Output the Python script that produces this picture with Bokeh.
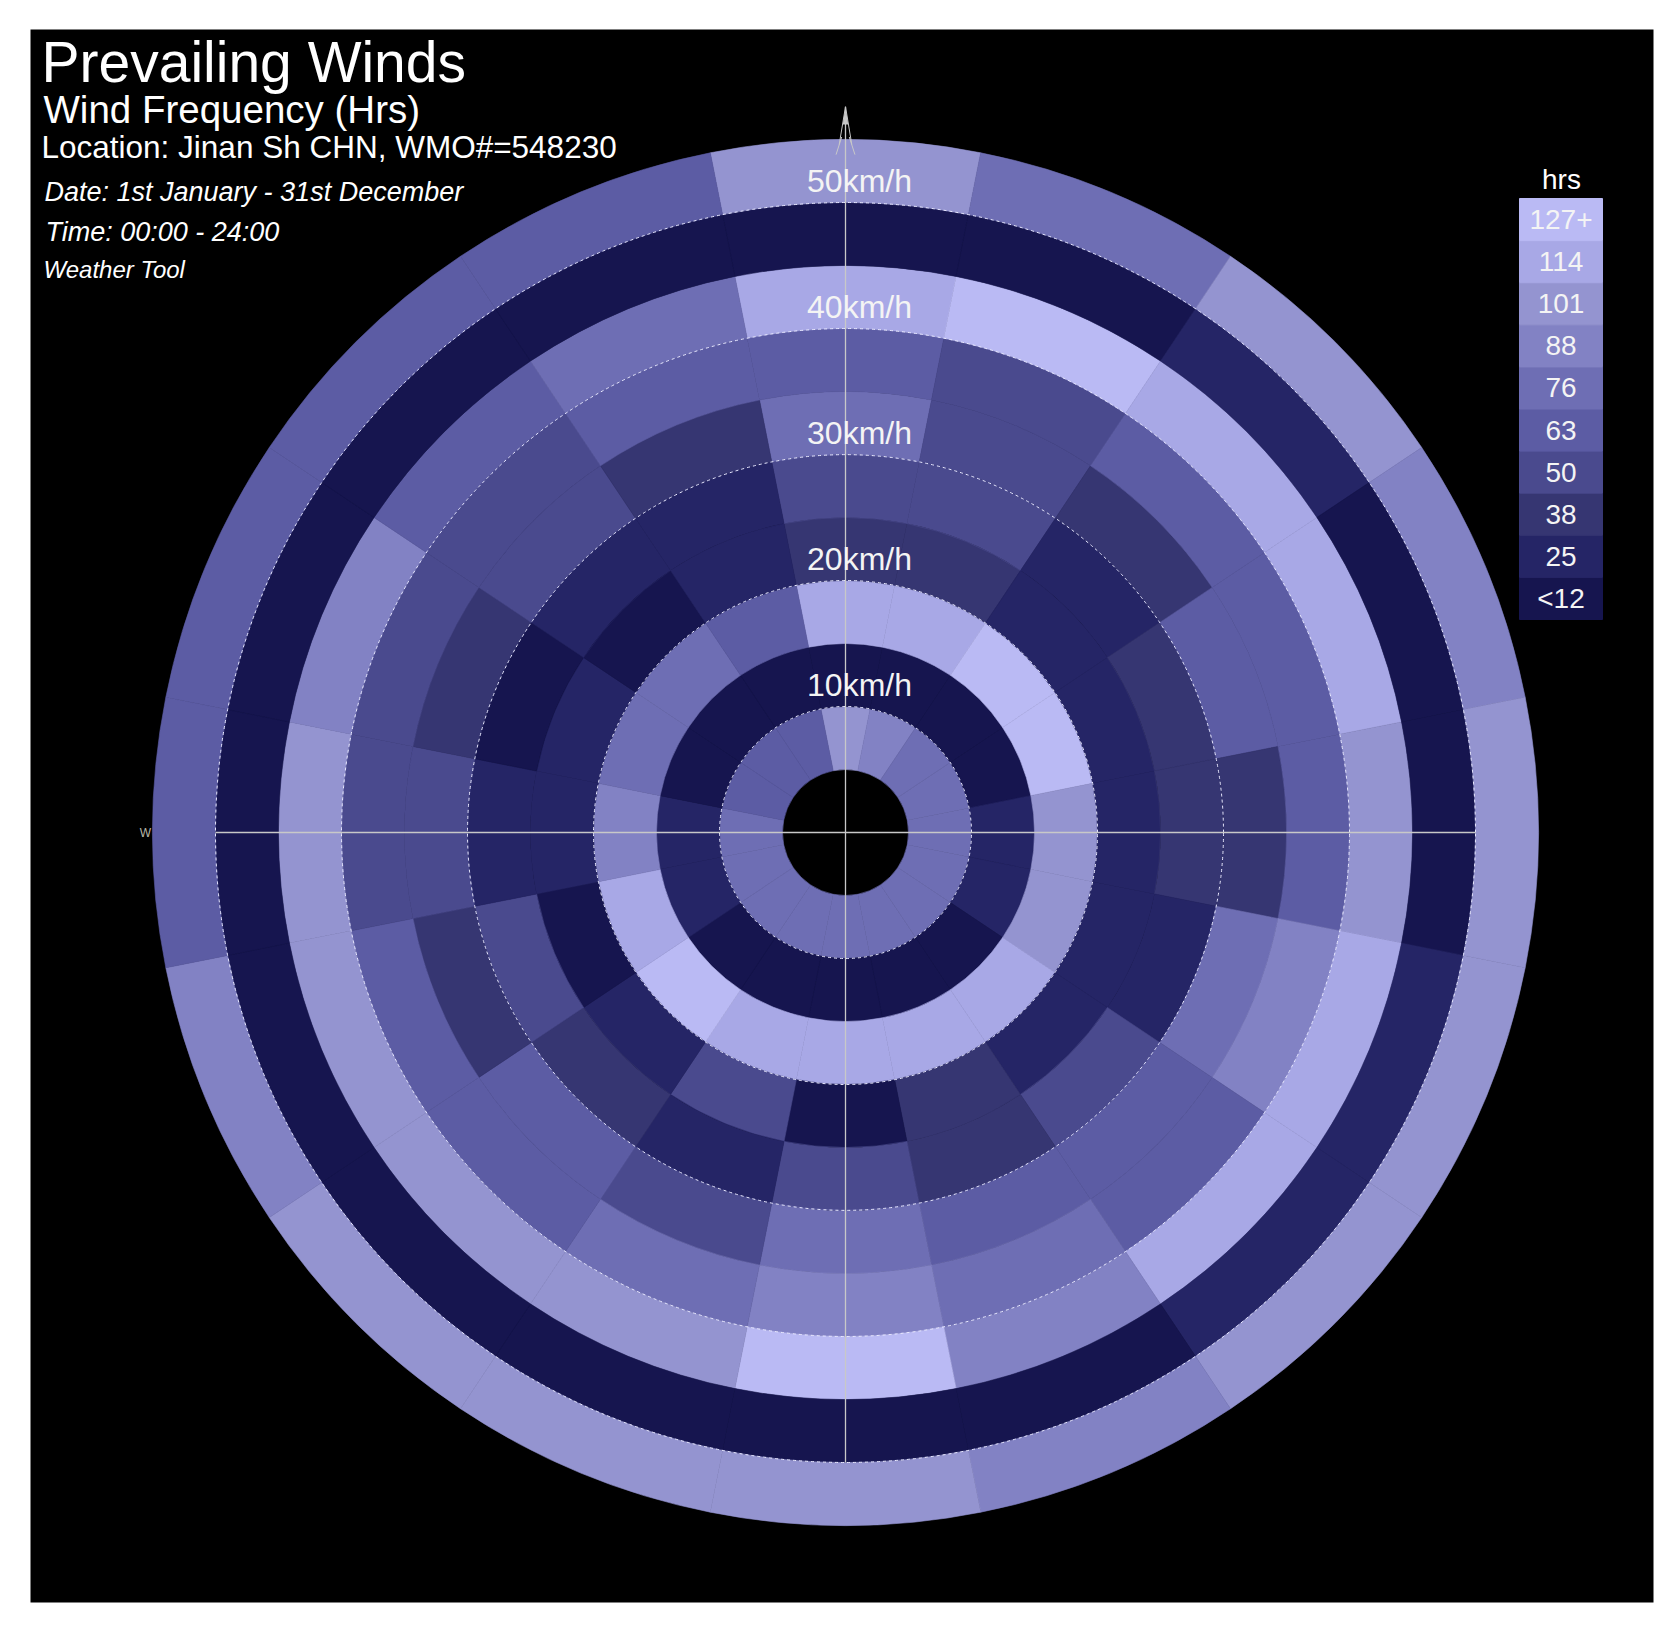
import math
from bokeh.plotting import figure
from bokeh.models import Range1d, ColumnDataSource
from bokeh.core.properties import value
from bokeh.embed import file_html
from bokeh.resources import INLINE

# ---------------- data ----------------
directions = ["N", "NNE", "NE", "ENE", "E", "ESE", "SE", "SSE",
              "S", "SSW", "SW", "WSW", "W", "WNW", "NW", "NNW"]
speed_edges = [5, 10, 15, 20, 25, 30, 35, 40, 45, 50, 55]   # km/h

# wind frequency (hours) per speed band, per direction (N..NNW)
hrs_05_10 = [96, 84, 72, 68, 70, 66, 67, 69, 71, 68, 66, 70, 72, 60, 57, 59]
hrs_10_15 = [9, 11, 10, 11, 16, 18, 10, 9, 11, 12, 12, 15, 17, 6, 7, 9]
hrs_15_20 = [106, 110, 131, 135, 94, 92, 108, 105, 109, 111, 134, 112, 82, 72, 70, 58]
hrs_20_25 = [30, 32, 20, 19, 18, 21, 22, 29, 10, 44, 20, 11, 19, 17, 9, 18]
hrs_25_30 = [42, 44, 22, 30, 31, 21, 46, 34, 45, 22, 33, 47, 23, 11, 16, 21]
hrs_30_35 = [66, 46, 33, 56, 36, 68, 57, 58, 70, 47, 59, 36, 44, 35, 43, 37]
hrs_35_40 = [58, 48, 60, 55, 54, 80, 61, 68, 81, 70, 60, 58, 47, 45, 46, 56]
hrs_40_45 = [106, 126, 112, 104, 96, 107, 110, 84, 128, 99, 97, 98, 95, 82, 60, 71]
hrs_45_50 = [5, 6, 16, 8, 11, 17, 15, 8, 7, 10, 11, 12, 10, 6, 5, 6]
hrs_50_55 = [94, 72, 93, 85, 97, 98, 92, 86, 96, 93, 99, 80, 58, 56, 55, 57]
bands = [hrs_05_10, hrs_10_15, hrs_15_20, hrs_20_25, hrs_25_30,
         hrs_30_35, hrs_35_40, hrs_40_45, hrs_45_50, hrs_50_55]

legend_labels = ["<12", "25", "38", "50", "63", "76", "88", "101", "114", "127+"]
legend_step = 12.7
palette = ["#16154f", "#252566", "#363672", "#4a4a8e", "#5c5ca4",
           "#6e6eb4", "#8282c4", "#9494d0", "#a8a8e6", "#babaf4"]
speed_ticks = [10, 20, 30, 40, 50]
speed_labels = ["10km/h", "20km/h", "30km/h", "40km/h", "50km/h"]

title_lines = ["Prevailing Winds", "Wind Frequency (Hrs)",
               "Location: Jinan Sh CHN, WMO#=548230"]
italic_lines = ["Date: 1st January - 31st December", "Time: 00:00 - 24:00"]
tool_line = "Weather Tool"

# ---------------- layout (page pixels -> data km/h) ----------------
CX, CY, PX = 845.0, 832.0, 12.6
W, H = 1676, 1629


def dx(X):
    return (X - CX) / PX


def dy(Y):
    return (CY - Y) / PX


p = figure(width=W, height=H,
           x_range=Range1d(dx(0), dx(W)), y_range=Range1d(dy(H), dy(0)),
           output_backend="svg", toolbar_location=None, min_border=0,
           x_axis_location=None, y_axis_location=None)
p.grid.visible = False
p.outline_line_color = None
p.background_fill_color = "white"
p.border_fill_color = "white"

# black panel
p.quad(left=[dx(30)], right=[dx(1653)], top=[dy(29)], bottom=[dy(1602)],
       fill_color="black", line_color=None)

# wedges
r0, r1, a0, a1, col, hv = [], [], [], [], [], []
sector = 360.0 / len(directions)
for k, band in enumerate(bands):
    for d, h in enumerate(band):
        bearing = d * sector
        r0.append(speed_edges[k])
        r1.append(speed_edges[k + 1])
        a0.append(math.radians(90 - bearing - sector / 2))
        a1.append(math.radians(90 - bearing + sector / 2))
        idx = min(len(palette) - 1, int(h // legend_step))
        col.append(palette[idx])
        hv.append(h)
src = ColumnDataSource(dict(r0=r0, r1=r1, a0=a0, a1=a1, color=col, hours=hv))
p.annular_wedge(x=0, y=0, inner_radius="r0", outer_radius="r1",
                start_angle="a0", end_angle="a1", direction="anticlock",
                fill_color="color", line_color="color", line_width=0.6, source=src)

# dashed speed circles
p.arc(x=[0] * len(speed_ticks), y=[0] * len(speed_ticks), radius=speed_ticks,
      start_angle=0, end_angle=2 * math.pi, line_color="#e8e8ff",
      line_dash="3 3", line_width=1)

# crosshair + north arrow
tip = 57.6
p.segment(x0=[-speed_ticks[-1], 0], y0=[0, -speed_ticks[-1]],
          x1=[speed_ticks[-1], 0], y1=[0, tip],
          line_color="#c8c8c8", line_width=1.3)
p.multi_line(xs=[[-0.5, 0, 0.5], [-0.75, -0.3], [0.75, 0.3]],
             ys=[[54.6, tip, 54.6], [53.8, 55.2], [53.8, 55.2]],
             line_color="#c8c8c8", line_width=1)
p.patch(x=[0, -0.22, 0.22], y=[tip, 56.2, 56.2], fill_color="#c8c8c8", line_color=None)
p.text(x=[dx(145)], y=[0], text=["W"], text_align="center", text_baseline="middle",
       text_font=value("Liberation Sans"), text_font_size=value("12px"),
       text_color="#b8b8a8")

# speed labels
p.text(x=[dx(859)] * len(speed_ticks), y=[v + 1.7 for v in speed_ticks], text=speed_labels,
       text_align="center", text_baseline="middle",
       text_font=value("Liberation Sans"), text_font_size=value("32px"),
       text_color="#f4f4f4")

# titles
p.text(x=[dx(41)], y=[dy(61)], text=[title_lines[0]], text_baseline="middle",
       text_font=value("Liberation Sans"), text_font_size=value("57px"), text_color="white")
p.text(x=[dx(43)], y=[dy(109)], text=[title_lines[1]], text_baseline="middle",
       text_font=value("Liberation Sans"), text_font_size=value("38.5px"), text_color="white")
p.text(x=[dx(41)], y=[dy(146)], text=[title_lines[2]], text_baseline="middle",
       text_font=value("Liberation Sans"), text_font_size=value("31.5px"), text_color="white")
p.text(x=[dx(44), dx(45)], y=[dy(191.5), dy(231)], text=italic_lines, text_baseline="middle",
       text_font=value("Liberation Sans"), text_font_size=value("27px"),
       text_font_style="italic", text_color="white")
p.text(x=[dx(43)], y=[dy(269)], text=[tool_line], text_baseline="middle",
       text_font=value("Liberation Sans"), text_font_size=value("24px"),
       text_font_style="italic", text_color="white")

# legend
LX0, LX1, LT, LB = 1519, 1602, 198, 619
bh = (LB - LT) / len(legend_labels)
lcx = [dx((LX0 + LX1) / 2)] * len(legend_labels)
lcy = [dy(LB - bh * (i + 0.5)) for i in range(len(legend_labels))]
p.rect(x=lcx, y=lcy, width=(LX1 - LX0) / PX, height=bh / PX,
       fill_color=palette, line_color=palette)
p.text(x=lcx, y=lcy, text=legend_labels, text_align="center", text_baseline="middle",
       text_font=value("Liberation Sans"), text_font_size=value("28px"), text_color="#f4f4f4")
p.text(x=[dx(1561)], y=[dy(179)], text=["hrs"], text_align="center", text_baseline="middle",
       text_font=value("Liberation Sans"), text_font_size=value("28px"), text_color="white")

open("out.html", "w").write(file_html(p, INLINE))
